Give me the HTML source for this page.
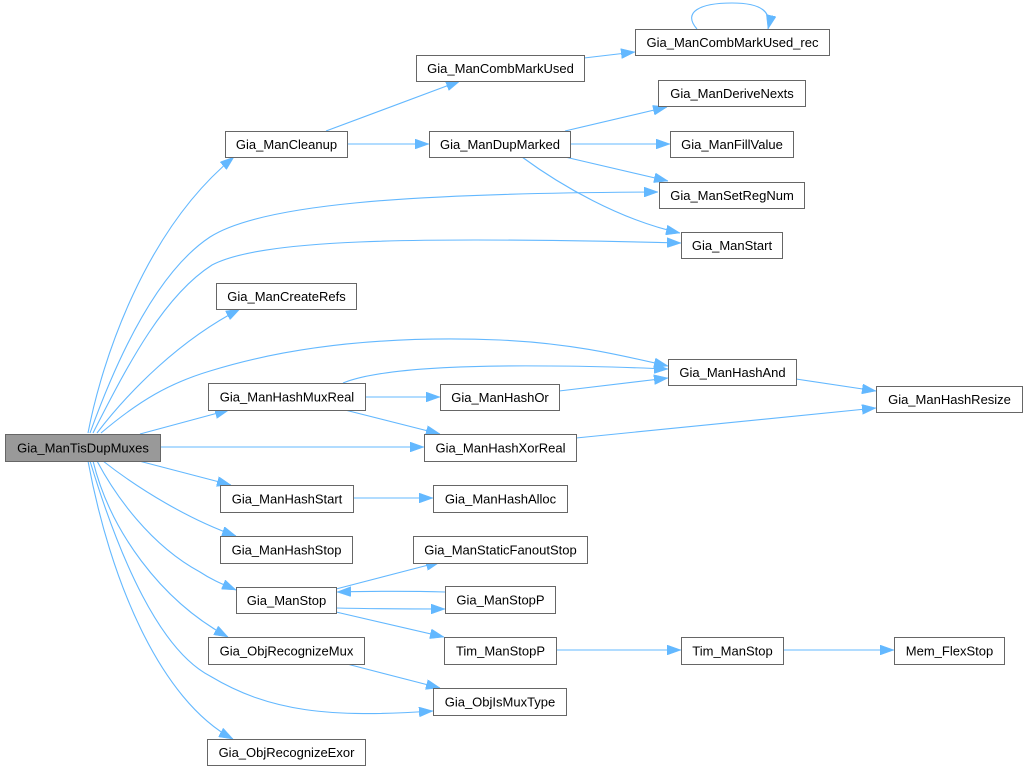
<!DOCTYPE html>
<html><head><meta charset="utf-8"><style>
html,body{margin:0;padding:0;background:#fff;}
svg{display:block;}
text{font-family:"Liberation Sans",Arial,sans-serif;font-size:13px;fill:#000;text-anchor:middle;}
.n{fill:#fff;stroke:#666;stroke-width:1;}
.r{fill:#999;stroke:#666;stroke-width:1;}
.e{fill:none;stroke:#63b8ff;stroke-width:1.1;}
</style></head><body>
<svg width="1027" height="771" viewBox="0 0 1027 771" xmlns="http://www.w3.org/2000/svg">
<defs>
<marker id="a" viewBox="0 0 14 10" refX="14" refY="5" markerWidth="14" markerHeight="10" orient="auto" markerUnits="userSpaceOnUse">
<path d="M0,0 L14,5 L0,10 z" fill="#63b8ff" stroke="#63b8ff" stroke-width="0.5"/>
</marker>
</defs>
<g marker-end="url(#a)">
<!-- root edges -->
<path class="e" d="M88,433 C102,360 145,230 234,157"/>
<path class="e" d="M90,433 C120,350 160,270 210,237 C260,205 400,193 658,192"/>
<path class="e" d="M93,433 C130,360 165,295 212,265 C260,240 400,236 681,243"/>
<path class="e" d="M97,433 C130,390 180,340 240,309"/>
<path class="e" d="M101,433 C140,400 170,383 210,371 C300,343 400,336 500,340 C570,343 620,355 668,366"/>
<path class="e" d="M140,434 L229,410"/>
<path class="e" d="M160,447 L424,447"/>
<path class="e" d="M139,461 L231,485"/>
<path class="e" d="M103,461 C140,490 190,520 236,536"/>
<path class="e" d="M97,461 C115,495 150,545 200,572 C212,580 222,584 236,590"/>
<path class="e" d="M93,461 C110,530 160,600 228,637"/>
<path class="e" d="M90,461 C120,560 160,650 210,676 C270,712 330,718 433,711"/>
<path class="e" d="M88,461 C110,580 160,700 233,739"/>
<!-- other edges -->
<path class="e" d="M326,131 L460,81"/>
<path class="e" d="M347,144 L429,144"/>
<path class="e" d="M584,58 L635,52"/>
<path class="e" d="M697,29 C682,12 700,3 732,3 C762,3 772,12 768,29"/>
<path class="e" d="M565,131 L667,107"/>
<path class="e" d="M570,144 L670,144"/>
<path class="e" d="M565,157 L668,181"/>
<path class="e" d="M522,157 C560,185 620,220 680,233"/>
<path class="e" d="M343,383 C375,370 450,365 550,366 C600,366 640,368 668,369"/>
<path class="e" d="M365,397 L440,397"/>
<path class="e" d="M345,410 L440,434"/>
<path class="e" d="M559,391 L668,378"/>
<path class="e" d="M796,379 L876,391"/>
<path class="e" d="M576,438 L876,408"/>
<path class="e" d="M353,498 L433,498"/>
<path class="e" d="M336,589 L440,562"/>
<path class="e" d="M445,592 C410,591 380,591 337,592"/>
<path class="e" d="M336,608 C380,609 410,609 445,609"/>
<path class="e" d="M336,612 L444,637"/>
<path class="e" d="M347,664 L440,688"/>
<path class="e" d="M556,650 L681,650"/>
<path class="e" d="M783,650 L894,650"/>
</g>
<!-- nodes -->
<rect class="r" x="5.5" y="434.5" width="155" height="27"/><text x="83" y="452.5">Gia_ManTisDupMuxes</text>
<rect class="n" x="225.5" y="131.5" width="122" height="26"/><text x="286.5" y="149">Gia_ManCleanup</text>
<rect class="n" x="416.5" y="55.5" width="168" height="26"/><text x="500.5" y="73">Gia_ManCombMarkUsed</text>
<rect class="n" x="635.5" y="29.5" width="194" height="26"/><text x="732.5" y="47">Gia_ManCombMarkUsed_rec</text>
<rect class="n" x="658.5" y="80.5" width="147" height="26"/><text x="732" y="98">Gia_ManDeriveNexts</text>
<rect class="n" x="429.5" y="131.5" width="141" height="26"/><text x="500" y="149">Gia_ManDupMarked</text>
<rect class="n" x="670.5" y="131.5" width="123" height="26"/><text x="732" y="149">Gia_ManFillValue</text>
<rect class="n" x="659.5" y="182.5" width="145" height="26"/><text x="732" y="200">Gia_ManSetRegNum</text>
<rect class="n" x="681.5" y="232.5" width="101" height="26"/><text x="732" y="250">Gia_ManStart</text>
<rect class="n" x="216.5" y="283.5" width="140" height="26"/><text x="286.5" y="301">Gia_ManCreateRefs</text>
<rect class="n" x="668.5" y="359.5" width="128" height="26"/><text x="732.5" y="377">Gia_ManHashAnd</text>
<rect class="n" x="208.5" y="383.5" width="157" height="27"/><text x="287" y="401.5">Gia_ManHashMuxReal</text>
<rect class="n" x="440.5" y="384.5" width="119" height="26"/><text x="500" y="402">Gia_ManHashOr</text>
<rect class="n" x="876.5" y="386.5" width="146" height="26"/><text x="949.5" y="404">Gia_ManHashResize</text>
<rect class="n" x="424.5" y="434.5" width="152" height="27"/><text x="500.5" y="452.5">Gia_ManHashXorReal</text>
<rect class="n" x="220.5" y="485.5" width="133" height="27"/><text x="287" y="503.5">Gia_ManHashStart</text>
<rect class="n" x="433.5" y="485.5" width="134" height="27"/><text x="500.5" y="503.5">Gia_ManHashAlloc</text>
<rect class="n" x="220.5" y="536.5" width="132" height="27"/><text x="286.5" y="554.5">Gia_ManHashStop</text>
<rect class="n" x="413.5" y="536.5" width="174" height="27"/><text x="500.5" y="554.5">Gia_ManStaticFanoutStop</text>
<rect class="n" x="236.5" y="587.5" width="100" height="26"/><text x="286.5" y="605">Gia_ManStop</text>
<rect class="n" x="445.5" y="586.5" width="110" height="27"/><text x="500.5" y="604.5">Gia_ManStopP</text>
<rect class="n" x="208.5" y="637.5" width="156" height="27"/><text x="286.5" y="655.5">Gia_ObjRecognizeMux</text>
<rect class="n" x="444.5" y="637.5" width="112" height="27"/><text x="500.5" y="655.5">Tim_ManStopP</text>
<rect class="n" x="681.5" y="637.5" width="102" height="27"/><text x="732.5" y="655.5">Tim_ManStop</text>
<rect class="n" x="894.5" y="637.5" width="110" height="27"/><text x="949.5" y="655.5">Mem_FlexStop</text>
<rect class="n" x="433.5" y="688.5" width="133" height="27"/><text x="500" y="706.5">Gia_ObjIsMuxType</text>
<rect class="n" x="207.5" y="739.5" width="158" height="26"/><text x="286.5" y="757">Gia_ObjRecognizeExor</text>
</svg>
</body></html>
